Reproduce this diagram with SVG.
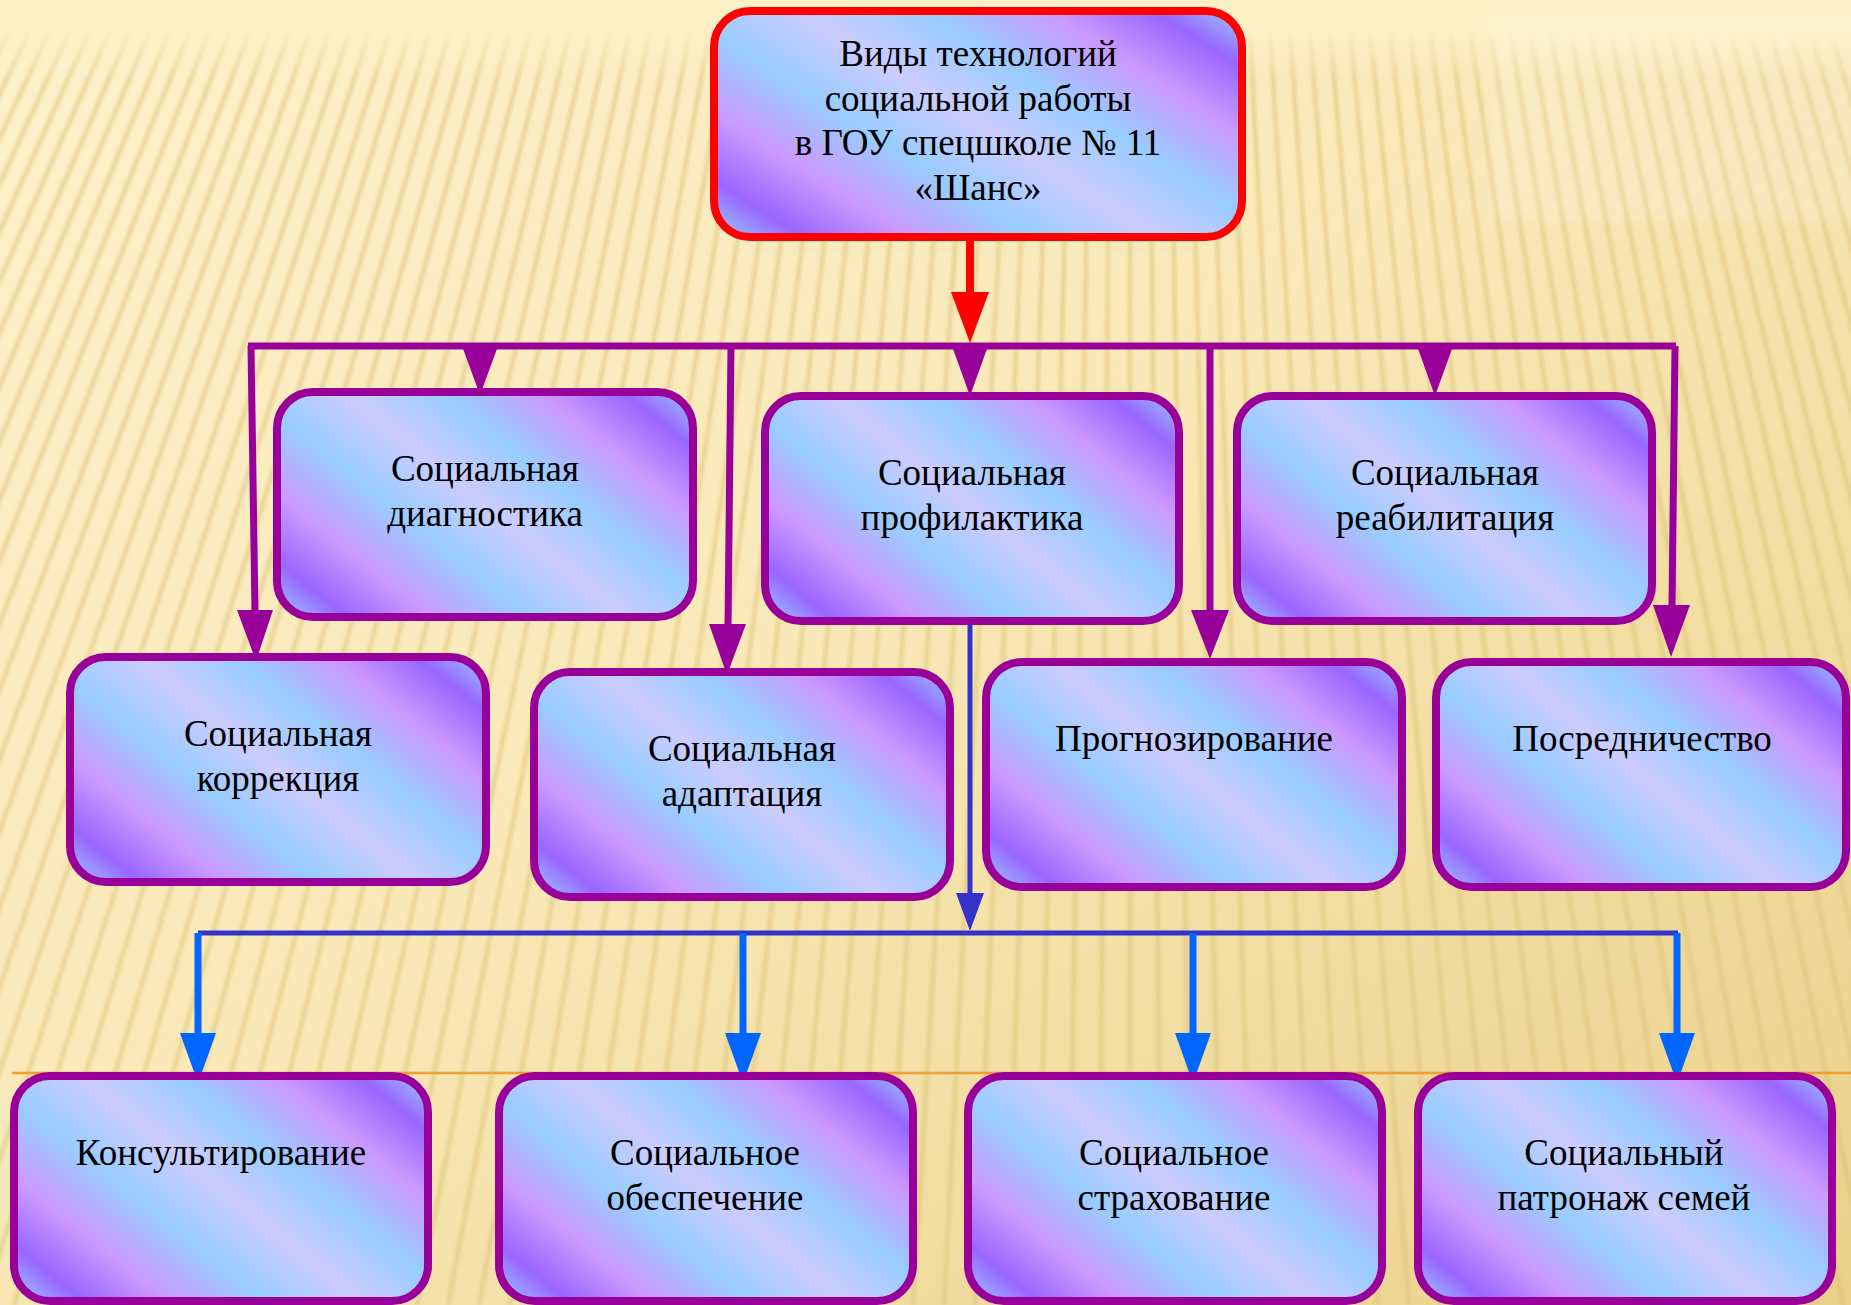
<svg xmlns="http://www.w3.org/2000/svg" width="1851" height="1305" viewBox="0 0 1851 1305">
<style>
.box{fill:url(#bf);stroke:#990099;stroke-width:8}
.top{fill:url(#bf);stroke:#ff0000;stroke-width:8}
.t{font-family:"Liberation Serif","Times New Roman",serif;font-size:37px;fill:#000;text-anchor:middle}
.pl{stroke:#990099;stroke-width:7;fill:none}
.pa{fill:#990099}
.rl{stroke:#ff0000;stroke-width:8;fill:none}
.ra{fill:#ff0000}
.dl{stroke:#3333cc;stroke-width:5;fill:none}
.da{fill:#3333cc}
.bl{stroke:#0066ff;stroke-width:7;fill:none}
.ba{fill:#0066ff}
</style>
<defs>
<linearGradient id="bg" x1="0" y1="0" x2="1" y2="1">
<stop offset="0" stop-color="#fdf1ca"/>
<stop offset="0.45" stop-color="#f9e9b8"/>
<stop offset="1" stop-color="#ead08a"/>
</linearGradient>
<linearGradient id="topfade" x1="0" y1="0" x2="0" y2="1">
<stop offset="0" stop-color="#fdf0c7" stop-opacity="1"/>
<stop offset="0.35" stop-color="#fdf0c7" stop-opacity="1"/>
<stop offset="1" stop-color="#fdf0c7" stop-opacity="0"/>
</linearGradient>
<linearGradient id="bf" x1="1" y1="0" x2="-0.15" y2="0.777">
<stop offset="0" stop-color="#99ccff"/>
<stop offset="0.1" stop-color="#9966ff"/>
<stop offset="0.22" stop-color="#cc99ff"/>
<stop offset="0.36" stop-color="#99ccff"/>
<stop offset="0.5" stop-color="#ccccff"/>
<stop offset="0.64" stop-color="#99ccff"/>
<stop offset="0.78" stop-color="#cc99ff"/>
<stop offset="0.9" stop-color="#9966ff"/>
<stop offset="1" stop-color="#99ccff"/>
</linearGradient>
<filter id="soft" x="-5%" y="-5%" width="110%" height="110%">
<feGaussianBlur stdDeviation="1.6"/>
</filter>
<filter id="soft2">
<feGaussianBlur stdDeviation="6"/>
</filter>
</defs>

<g id="background">
<rect x="0" y="0" width="1851" height="1305" fill="url(#bg)"/>
<path filter="url(#soft)" stroke="#d9bd72" stroke-opacity="0.45" stroke-width="5" fill="none" d="M10 30L-606 1305M30 30L-575 1305M50 30L-544 1305M70 30L-513 1305M90 30L-482 1305M110 30L-451 1305M130 30L-420 1305M150 30L-389 1305M170 30L-358 1305M190 30L-327 1305M210 30L-296 1305M230 30L-265 1305M250 30L-234 1305M270 30L-203 1305M290 30L-172 1305M310 30L-141 1305M330 30L-110 1305M350 30L-79 1305M370 30L-48 1305M390 30L-17 1305M410 30L14 1305M430 30L45 1305M450 30L76 1305M470 30L107 1305M490 30L138 1305M510 30L169 1305M530 30L200 1305M550 30L231 1305M570 30L262 1305M590 30L293 1305M610 30L324 1305M630 30L355 1305M650 30L386 1305M670 30L417 1305M690 30L448 1305M710 30L479 1305M730 30L510 1305M750 30L541 1305M770 30L572 1305M790 30L603 1305M810 30L634 1305M830 30L665 1305M850 30L696 1305M870 30L727 1305M890 30L758 1305M910 30L789 1305M930 30L820 1305M950 30L851 1305M970 30L882 1305M990 30L913 1305M1010 30L944 1305M1030 30L975 1305M1050 30L1006 1305M1070 30L1037 1305M1090 30L1068 1305M1110 30L1099 1305M1130 30L1130 1305M1150 30L1161 1305M1170 30L1192 1305M1190 30L1223 1305M1210 30L1254 1305M1230 30L1285 1305M1250 30L1316 1305M1270 30L1347 1305M1290 30L1378 1305M1310 30L1409 1305M1330 30L1440 1305M1350 30L1471 1305M1370 30L1502 1305M1390 30L1533 1305M1410 30L1564 1305M1430 30L1595 1305M1450 30L1626 1305M1470 30L1657 1305M1490 30L1688 1305M1510 30L1719 1305M1530 30L1750 1305M1550 30L1781 1305M1570 30L1812 1305M1590 30L1843 1305M1610 30L1874 1305M1630 30L1905 1305M1650 30L1936 1305M1670 30L1967 1305M1690 30L1998 1305M1710 30L2029 1305M1730 30L2060 1305M1750 30L2091 1305M1770 30L2122 1305M1790 30L2153 1305M1810 30L2184 1305M1830 30L2215 1305M1850 30L2246 1305"/>
<rect x="0" y="0" width="1851" height="80" fill="url(#topfade)"/>
<rect x="1490" y="20" width="380" height="200" fill="#ffffff" fill-opacity="0.14" filter="url(#soft2)"/>
<path d="M12 1073H1851" stroke="#f0a030" stroke-width="2.5" fill="none"/>
</g>

<g id="connectors">
<path class="rl" d="M970 241V294"/>
<polygon class="ra" points="951,292 989,292 970,343"/>
<path class="pl" d="M248 346H1676"/>
<path class="pl" d="M251 346L255 612"/>
<polygon class="pa" points="237,610 273,610 256,661"/>
<polygon class="pa" points="462,346 498,346 480,395"/>
<path class="pl" d="M731 346L728 626"/>
<polygon class="pa" points="709,624 746,624 727,675"/>
<polygon class="pa" points="952,346 988,346 970,396"/>
<path class="pl" d="M1210 346V612"/>
<polygon class="pa" points="1191,610 1229,610 1210,659"/>
<polygon class="pa" points="1417,346 1453,346 1435,396"/>
<path class="pl" d="M1675 346L1672 607"/>
<polygon class="pa" points="1653,605 1690,605 1671,657"/>
<path class="dl" d="M970 625V895"/>
<polygon class="da" points="956,893 984,893 970,931"/>
<path class="dl" d="M198 933H1678"/>
<path class="bl" d="M198 933V1035"/>
<polygon class="ba" points="180,1033 216,1033 198,1083"/>
<path class="bl" d="M743 933V1035"/>
<polygon class="ba" points="725,1033 761,1033 743,1083"/>
<path class="bl" d="M1193 933V1035"/>
<polygon class="ba" points="1175,1033 1211,1033 1193,1083"/>
<path class="bl" d="M1677 933V1035"/>
<polygon class="ba" points="1659,1033 1695,1033 1677,1083"/>
</g>

<g id="node-root">
<rect class="top" x="714" y="11" width="528" height="226" rx="36"/>
<text class="t" x="978" y="66">Виды технологий</text>
<text class="t" x="978" y="111">социальной работы</text>
<text class="t" x="978" y="155">в ГОУ спецшколе № 11</text>
<text class="t" x="978" y="200">«Шанс»</text>
</g>

<g id="node-diagnostika">
<rect class="box" x="277" y="392" width="416" height="225" rx="36"/>
<text class="t" x="485" y="481">Социальная</text>
<text class="t" x="485" y="526">диагностика</text>
</g>

<g id="node-profilaktika">
<rect class="box" x="765" y="396" width="414" height="225" rx="36"/>
<text class="t" x="972" y="485">Социальная</text>
<text class="t" x="972" y="530">профилактика</text>
</g>

<g id="node-reabilitaciya">
<rect class="box" x="1237" y="396" width="415" height="225" rx="36"/>
<text class="t" x="1445" y="485">Социальная</text>
<text class="t" x="1445" y="530">реабилитация</text>
</g>

<g id="node-korrekciya">
<rect class="box" x="70" y="657" width="416" height="225" rx="36"/>
<text class="t" x="278" y="746">Социальная</text>
<text class="t" x="278" y="791">коррекция</text>
</g>

<g id="node-adaptaciya">
<rect class="box" x="534" y="672" width="416" height="225" rx="36"/>
<text class="t" x="742" y="761">Социальная</text>
<text class="t" x="742" y="806">адаптация</text>
</g>

<g id="node-prognozirovanie">
<rect class="box" x="986" y="662" width="416" height="225" rx="36"/>
<text class="t" x="1194" y="751">Прогнозирование</text>
</g>

<g id="node-posrednichestvo">
<rect class="box" x="1436" y="662" width="410" height="225" rx="36"/>
<text class="t" x="1642" y="751">Посредничество</text>
</g>

<g id="node-konsultirovanie">
<rect class="box" x="14" y="1076" width="414" height="225" rx="36"/>
<text class="t" x="221" y="1165">Консультирование</text>
</g>

<g id="node-obespechenie">
<rect class="box" x="499" y="1076" width="414" height="225" rx="36"/>
<text class="t" x="705" y="1165">Социальное</text>
<text class="t" x="705" y="1210">обеспечение</text>
</g>

<g id="node-strahovanie">
<rect class="box" x="968" y="1076" width="414" height="225" rx="36"/>
<text class="t" x="1174" y="1165">Социальное</text>
<text class="t" x="1174" y="1210">страхование</text>
</g>

<g id="node-patronazh">
<rect class="box" x="1418" y="1076" width="414" height="225" rx="36"/>
<text class="t" x="1624" y="1165">Социальный</text>
<text class="t" x="1624" y="1210">патронаж семей</text>
</g>
</svg>
